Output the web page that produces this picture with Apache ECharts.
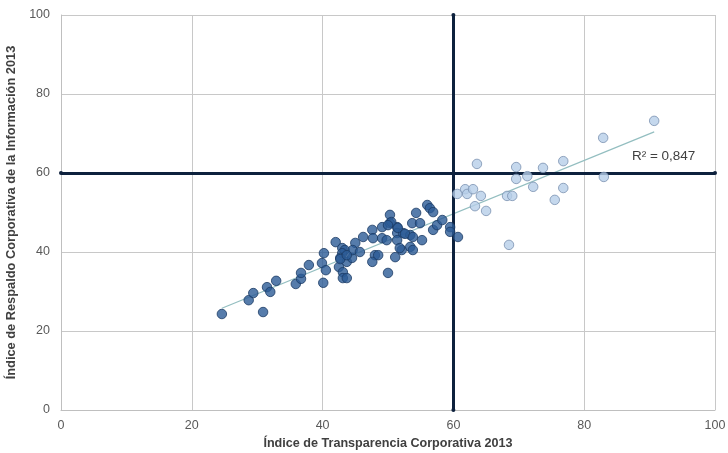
<!DOCTYPE html>
<html><head><meta charset="utf-8">
<script src="https://cdn.jsdelivr.net/npm/echarts@6/dist/echarts.min.js"></script>
<style>html,body{margin:0;padding:0;background:#fff}#c{width:728px;height:453px}</style>
</head><body><div id="c"></div>
<script>
const xTicks = [0, 20, 40, 60, 80, 100];
const yTicks = [0, 20, 40, 60, 80, 100];
const thresholdX = 60;
const thresholdY = 60;
const r2Label = "R² = 0,847";
const r2Pos = [87.3, 64.3];

const darkX = [24.6,30.9,28.7,29.4,31.5,32.0,32.9,35.9,36.7,36.7,37.9,40.1,39.9,40.2,40.5,42.0,43.0,43.4,43.0,42.7,43.7,42.5,43.1,43.1,43.7,44.5,45.0,44.6,45.7,46.2,47.6,47.7,48.0,47.6,48.5,49.1,49.1,49.8,50.0,50.3,50.3,51.4,51.4,51.4,51.1,52.1,52.3,53.4,53.7,53.4,53.8,54.3,54.9,55.2,56.0,56.4,56.9,56.9,57.5,58.3,59.5,59.5,60.7,50.5,50.0,51.5,52.6,53.8,42.7,43.7,51.8];
const darkY = [24.3,24.8,27.8,29.6,31.1,29.9,32.7,31.9,33.2,34.7,36.7,32.2,37.2,39.7,35.4,42.5,41.0,40.5,39.7,38.5,37.5,36.2,34.9,33.4,33.4,38.5,42.3,40.5,40.0,43.8,45.6,43.5,39.2,37.5,39.2,46.3,43.5,43.0,34.7,49.4,47.3,46.3,44.8,43.0,38.7,40.5,44.8,44.3,47.3,41.3,40.5,49.9,47.3,43.0,51.9,51.1,50.1,45.6,46.8,48.1,46.3,45.1,43.8,47.6,46.8,46.1,44.6,43.8,38.2,39.2,41.0];
const lightX = [63.6,69.6,69.6,71.3,73.7,76.8,72.2,76.8,75.5,60.6,61.8,62.1,63.0,64.2,63.3,65.0,68.2,69.0,68.5,82.9,90.7,83.0];
const lightY = [62.3,61.5,58.5,59.2,61.3,63.0,56.5,56.2,53.2,54.7,55.9,54.7,55.9,54.2,51.6,50.4,54.2,54.2,41.8,68.9,73.2,59.0];

const dark = darkX.map((x,i)=>[x,darkY[i]]);
const light = lightX.map((x,i)=>[x,lightY[i]]);
// least squares trend line over all points
const all = dark.concat(light);
const n = all.length;
let sx=0,sy=0,sxx=0,sxy=0;
all.forEach(([x,y])=>{sx+=x;sy+=y;sxx+=x*x;sxy+=x*y;});
const slope=(n*sxy-sx*sy)/(n*sxx-sx*sx);
const icpt=(sy-slope*sx)/n;
const xs = all.map(p=>p[0]);
const xmin=Math.min(...xs), xmax=Math.max(...xs);
const trend=[[xmin,icpt+slope*xmin],[xmax,icpt+slope*xmax]];

const font='Liberation Sans';
const chart=echarts.init(document.getElementById('c'),null,{renderer:'canvas'});
chart.setOption({
  animation:false,
  grid:{left:61,right:13,top:15,bottom:43,show:false,containLabel:false,outerBoundsMode:'none'},
  xAxis:{type:'value',min:xTicks[0],max:xTicks[xTicks.length-1],interval:20,
    name:'Índice de Transparencia Corporativa 2013',nameLocation:'middle',nameGap:26,
    nameTextStyle:{fontFamily:font,fontSize:12.6,fontWeight:'bold',color:'#404040'},
    axisLine:{show:true,lineStyle:{color:'#bfbfbf'}},axisTick:{show:false},
    axisLabel:{fontFamily:font,fontSize:12.5,color:'#595959',margin:9},
    splitLine:{show:true,lineStyle:{color:'#c8c8c8',width:1}}},
  yAxis:{type:'value',min:yTicks[0],max:yTicks[yTicks.length-1],interval:20,
    name:'Índice de Respaldo Corporativa de la Información 2013',nameLocation:'middle',nameGap:41,
    nameTextStyle:{fontFamily:font,fontSize:12.8,fontWeight:'bold',color:'#404040'},
    axisLine:{show:true,lineStyle:{color:'#bfbfbf'}},axisTick:{show:false},
    axisLabel:{fontFamily:font,fontSize:12.5,color:'#595959',margin:11},
    splitLine:{show:true,lineStyle:{color:'#c8c8c8',width:1}}},
  series:[
    {type:'line',data:trend,symbol:'none',silent:true,z:1,
     lineStyle:{color:'#93bec0',width:1.2},
     markPoint:{symbol:'circle',symbolSize:0,data:[{coord:r2Pos,value:r2Label}],
       label:{show:true,position:'right',distance:0,formatter:r2Label,fontFamily:font,fontSize:13.5,color:'#404040'}}},
    {type:'scatter',data:light,symbolSize:9.5,z:3,
     itemStyle:{color:'#b7cee9',borderColor:'#7a91b0',borderWidth:1}},
    {type:'scatter',data:dark,symbolSize:9.5,z:3,
     itemStyle:{color:'#2c5b96',borderColor:'#1c3b64',borderWidth:1},
     markLine:{silent:true,symbol:['circle','circle'],symbolSize:4,z:2,
       label:{show:false},
       lineStyle:{color:'#0d213d',width:3,type:'solid'},
       data:[{xAxis:thresholdX},{yAxis:thresholdY}]}}
  ]
});
</script></body></html>
